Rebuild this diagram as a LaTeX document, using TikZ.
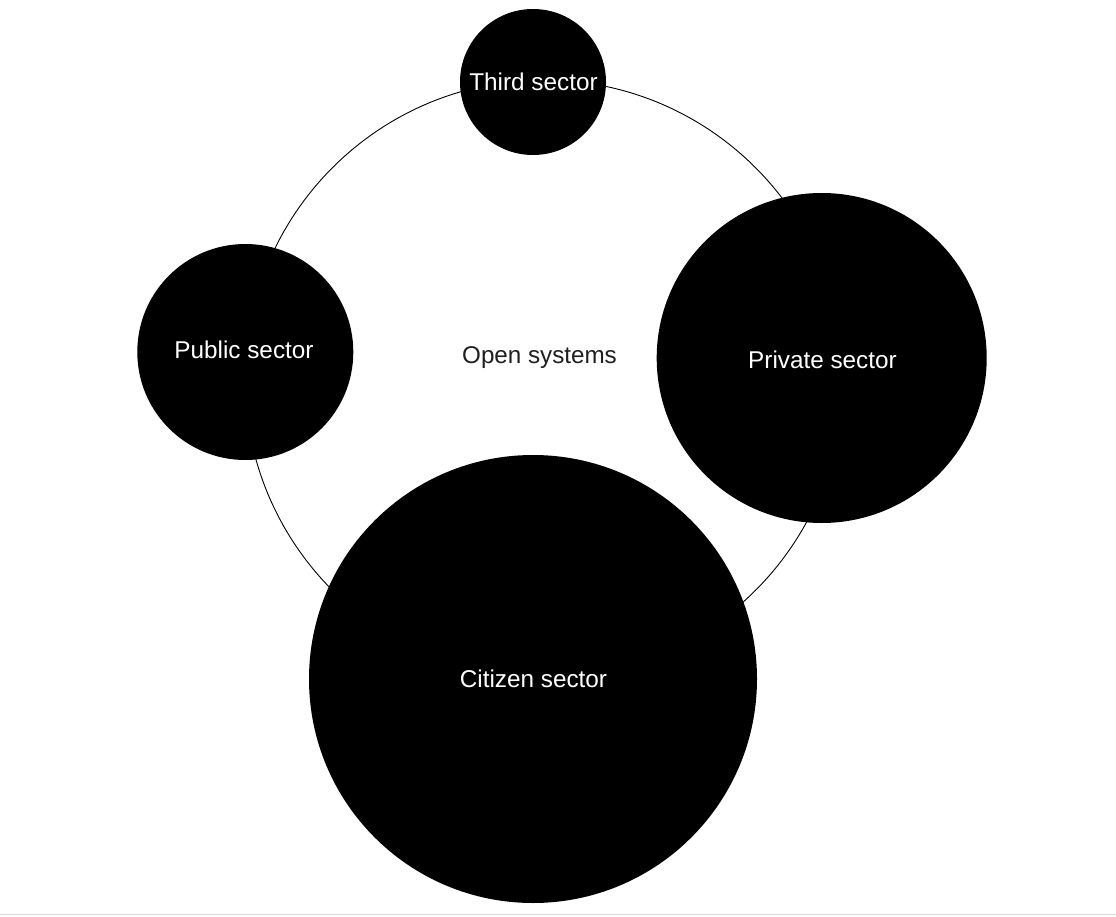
\documentclass[tikz,border=0pt]{standalone}
\usepackage{fontspec}
\setmainfont{Liberation Sans}
\begin{document}
\begin{tikzpicture}[x=1pt,y=-1pt,
  sector/.style={circle,fill=black,draw=none,inner sep=0pt,text=white,
    font=\fontsize{24.3}{27}\selectfont},
  ring/.style={circle,draw=black,line width=0.9pt,fill=none,inner sep=0pt},
  label/.style={font=\fontsize{24.2}{27}\selectfont,text=black!88}]
\useasboundingbox (0,0) rectangle (1116,917);
\fill[white] (0,0) rectangle (1116,917);
\draw[black!15,line width=1.5pt] (0,914.5) -- (1116,914.5);
\node[ring,minimum size=598pt] (open) at (544,379) {};
\node[label] (opentext) at (539.5,357.5) {Open systems};
\node[sector,minimum size=146pt] (third) at (533,82) {};
\node[sector,minimum size=216pt] (public) at (245.3,352) {};
\node[sector,minimum size=330pt] (private) at (821.7,358) {};
\node[sector,minimum size=448pt] (citizen) at (533,679) {};
\node[sector,fill=none] (thirdt) at (533.5,81.5) {Third sector};
\node[sector,fill=none] (publict) at (244,349.5) {Public sector};
\node[sector,fill=none] (privatet) at (822.5,359.5) {Private sector};
\node[sector,fill=none] (citizent) at (533.5,678.5) {Citizen sector};
\end{tikzpicture}
\end{document}
